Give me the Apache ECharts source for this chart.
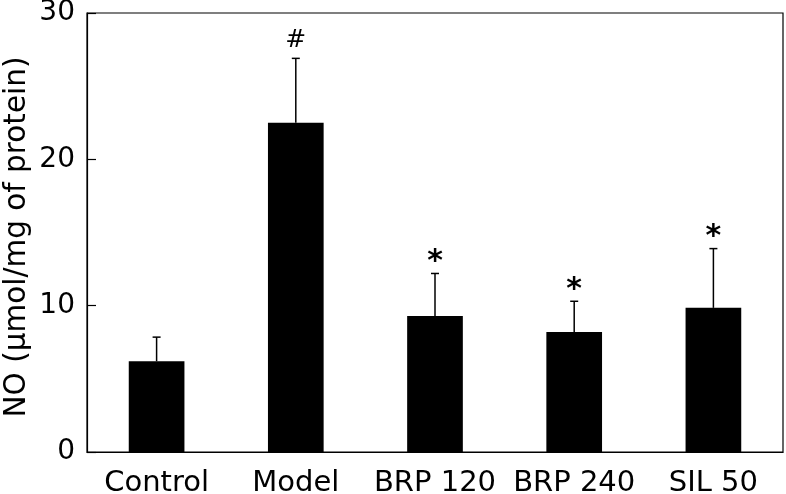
<!DOCTYPE html>
<html>
<head>
<meta charset="utf-8">
<script src="https://cdn.jsdelivr.net/npm/echarts@6/dist/echarts.min.js"></script>
<style>
html,body{margin:0;padding:0;background:#fff;}
#chart{width:786px;height:494px;}
</style>
</head>
<body>
<div id="chart"></div>
<script>
var categories = ['Control', 'Model', 'BRP 120', 'BRP 240', 'SIL 50'];
var means = [6.2, 22.5, 9.3, 8.2, 9.85];
var sds = [1.65, 4.4, 2.9, 2.1, 4.05];
var marks = ['', '#', '*', '*', '*'];
var yTicks = [0, 10, 20, 30];
var yTitle = 'NO (μmol/mg of protein)';

var FONT = '"DejaVu Sans", Verdana, sans-serif';
var chart = echarts.init(document.getElementById('chart'), null, {renderer: 'canvas'});

var errData = categories.map(function (c, i) { return [i, means[i], means[i] + sds[i], marks[i]]; });

chart.setOption({
  animation: false,
  grid: {left: 87, right: 3, top: 13, bottom: 42, containLabel: false, outerBoundsMode: 'none',
         show: true, borderColor: '#000', borderWidth: 1.2, backgroundColor: 'transparent'},
  graphic: [{
    type: 'text',
    x: 17, y: 237,
    rotation: Math.PI / 2,
    style: {text: yTitle, fill: '#000', fontFamily: FONT, fontSize: 29.5, textAlign: 'center', textVerticalAlign: 'middle'}
  }],
  xAxis: {
    type: 'category',
    data: categories,
    boundaryGap: true,
    axisLine: {lineStyle: {color: '#000', width: 1.2}},
    axisTick: {inside: true, length: 9, alignWithLabel: false, lineStyle: {color: '#000', width: 1.2}},
    axisLabel: {color: '#000', fontFamily: FONT, fontSize: 29, margin: 17, interval: 0, hideOverlap: false}
  },
  yAxis: {
    type: 'value',
    min: yTicks[0], max: yTicks[yTicks.length - 1], interval: 10,
    splitLine: {show: false},
    axisLine: {show: true, lineStyle: {color: '#000', width: 1.2}},
    axisTick: {show: true, inside: true, length: 9, lineStyle: {color: '#000', width: 1.2}},
    axisLabel: {color: '#000', fontFamily: FONT, fontSize: 28, margin: 12}
  },
  series: [
    {
      type: 'bar',
      data: means,
      barWidth: '40%',
      itemStyle: {color: '#000'}
    },
    {
      type: 'custom',
      data: errData,
      z: 1,
      renderItem: function (params, api) {
        var x = api.value(0);
        var base = api.coord([x, api.value(1)]);
        var top = api.coord([x, api.value(2)]);
        var mark = marks[params.dataIndex];
        var children = [
          {type: 'line', shape: {x1: base[0], y1: base[1], x2: top[0], y2: top[1]}, style: {stroke: '#000', lineWidth: 1.5}},
          {type: 'line', shape: {x1: top[0] - 4, y1: top[1], x2: top[0] + 4, y2: top[1]}, style: {stroke: '#000', lineWidth: 1.5}}
        ];
        if (mark) {
          children.push({
            type: 'text',
            style: {
              text: mark, x: top[0], y: mark === '#' ? top[1] - 5 : top[1] + 4,
              textAlign: 'center', textVerticalAlign: 'bottom',
              fill: '#000', fontFamily: FONT,
              fontWeight: mark === '#' ? 'normal' : 'bold',
              fontSize: mark === '#' ? 25 : 30
            }
          });
        }
        return {type: 'group', children: children};
      }
    }
  ]
});
</script>
</body>
</html>
